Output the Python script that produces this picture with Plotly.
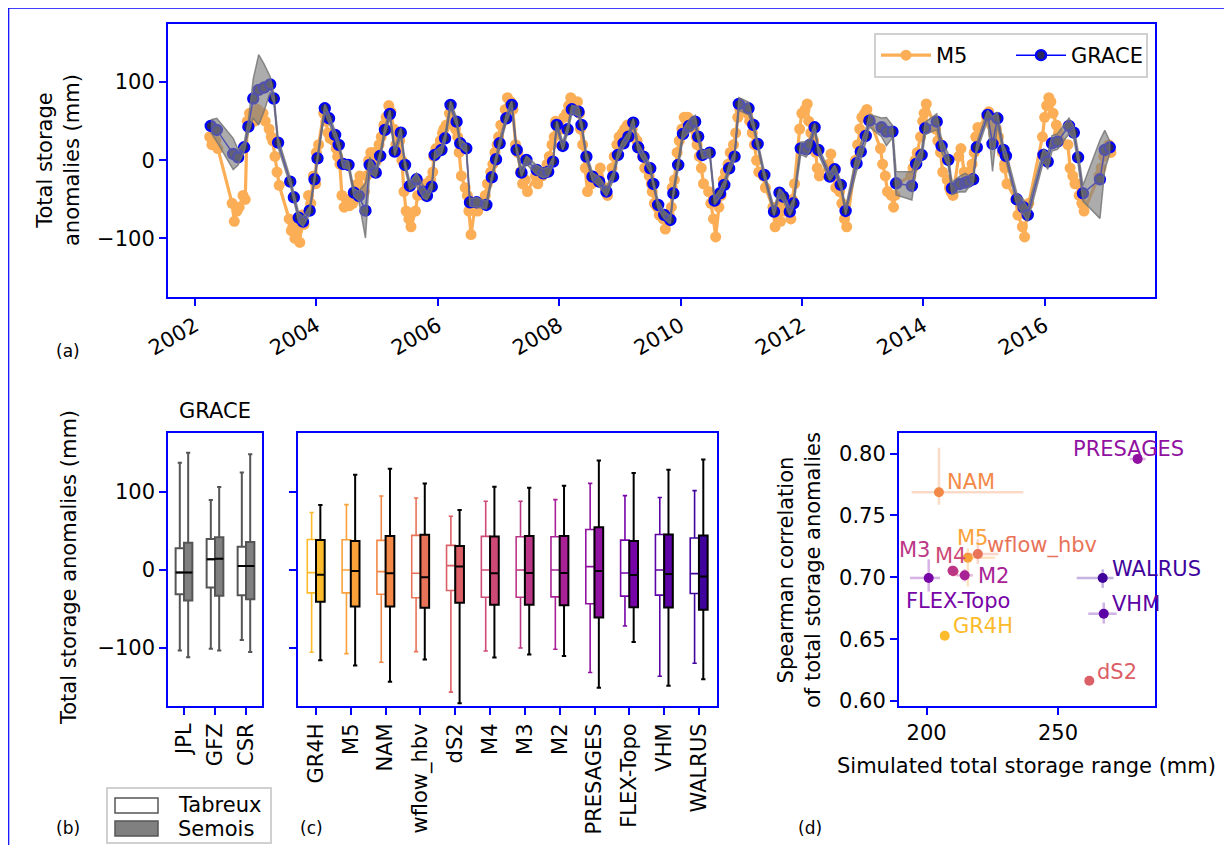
import plotly.graph_objects as go
from plotly.colors import sample_colorscale
from datetime import datetime, timedelta

# ---------------- data ----------------
grace_year = [2002.26, 2002.36, 2002.63, 2002.71, 2002.81, 2002.88, 2002.96, 2003.05, 2003.14, 2003.24,
              2003.30, 2003.37, 2003.57, 2003.63, 2003.71, 2003.78, 2003.89, 2003.97, 2004.02, 2004.14,
              2004.21, 2004.31, 2004.37, 2004.44, 2004.53, 2004.62, 2004.70, 2004.81, 2004.88, 2004.98,
              2005.05, 2005.13, 2005.21, 2005.29, 2005.39, 2005.46, 2005.54, 2005.65, 2005.76, 2005.82,
              2005.90, 2005.95, 2006.06, 2006.12, 2006.21, 2006.31, 2006.37, 2006.47, 2006.53, 2006.64,
              2006.80, 2006.89, 2006.96, 2007.02, 2007.13, 2007.22, 2007.30, 2007.38, 2007.46, 2007.63,
              2007.74, 2007.82, 2007.90, 2007.96, 2008.06, 2008.14, 2008.21, 2008.32, 2008.37, 2008.45,
              2008.55, 2008.66, 2008.78, 2008.89, 2008.97, 2009.06, 2009.14, 2009.22, 2009.30, 2009.39,
              2009.50, 2009.55, 2009.63, 2009.73, 2009.83, 2009.88, 2009.96, 2010.04, 2010.14, 2010.24,
              2010.29, 2010.36, 2010.48, 2010.56, 2010.65, 2010.72, 2010.80, 2010.89, 2010.96, 2011.12,
              2011.20, 2011.27, 2011.38, 2011.54, 2011.63, 2011.69, 2011.80, 2011.86, 2011.98, 2012.07,
              2012.13, 2012.21, 2012.27, 2012.46, 2012.54, 2012.64, 2012.72, 2012.90, 2012.97, 2013.05,
              2013.11, 2013.31, 2013.39, 2013.49, 2013.55, 2013.81, 2013.88, 2013.97, 2014.03, 2014.22,
              2014.30, 2014.41, 2014.47, 2014.60, 2014.69, 2014.74, 2014.82, 2014.88, 2015.06, 2015.14,
              2015.22, 2015.32, 2015.36, 2015.54, 2015.65, 2015.72, 2015.98, 2016.05, 2016.12, 2016.21,
              2016.40, 2016.48, 2016.55, 2016.63, 2016.91, 2016.99, 2017.07]
grace_tsa = [43.9, 38.8, 8.1, 3.8, 16.6, 43.0, 79.0, 90.0, 93.0, 97.0,
             79.0, 22.6, -27.3, -47.3, -73.3, -78.4, -64.4, -24.3, 2.6, 66.5,
             53.7, 32.4, 19.6, -4.7, -6.0, -41.3, -45.6, -64.4, -6.0, -15.8,
             5.5, 38.8, 59.2, 11.1, 35.4, -6.0, -32.8, -24.3, -40.1, -45.6,
             -33.7, 6.8, 13.2, 28.1, 70.8, 49.4, 21.7, 15.3, -53.7, -53.7,
             -57.1, -21.7, 1.3, 21.7, 53.7, 70.8, 13.2, -15.8, 0.4, -12.4,
             -16.6, -14.5, -1.7, 45.2, 18.3, 39.6, 65.2, 62.2, 45.2, 4.7,
             -20.9, -27.3, -40.1, -20.9, 6.8, 21.7, 30.3, 48.2, 16.6, 4.7,
             -10.2, -30.3, -57.1, -69.9, -76.3, -42.2, -6.0, 33.7, 43.9, 49.4,
             30.3, 6.8, 9.8, -51.6, -42.2, -31.5, -10.2, 4.7, 72.0, 66.5,
             45.2, 20.9, -18.8, -65.6, -41.3, -46.5, -65.6, -55.0, 15.3, 14.1,
             19.6, 42.2, 13.2, -20.9, -11.5, -31.5, -64.8, -3.8, 11.1, 31.1,
             50.7, 42.2, 36.7, 36.7, -29.4, -32.8, -4.7, 6.8, 40.9, 49.4,
             18.3, 0.4, -35.8, -30.3, -28.6, -27.3, -24.3, 16.6, 58.0, 20.9,
             53.7, 13.2, 5.5, -49.9, -60.1, -69.9, 6.8, -1.7, 21.7, 23.9,
             43.9, 35.4, 3.8, -42.2, -24.3, 13.2, 16.6]
grace_spread = [8, 15, 20, 10, 6, 8, 25, 45, 30, 10,
                6, 6, 5, 5, 6, 6, 5, 5, 5, 5,
                5, 5, 5, 5, 5, 5, 6, 35, 10, 6,
                5, 5, 5, 5, 6, 5, 5, 8, 8, 5,
                5, 5, 5, 5, 5, 5, 5, 5, 5, 6,
                5, 5, 5, 5, 5, 5, 5, 5, 5, 6,
                6, 6, 5, 5, 5, 5, 5, 6, 5, 5,
                5, 6, 6, 5, 5, 5, 5, 5, 5, 5,
                5, 5, 5, 5, 5, 5, 5, 6, 8, 8,
                5, 5, 5, 5, 5, 5, 5, 5, 8, 8,
                5, 5, 5, 5, 5, 5, 5, 5, 8, 10,
                8, 5, 5, 5, 5, 5, 5, 10, 10, 8,
                8, 12, 18, 8, 15, 18, 8, 8, 8, 10,
                8, 8, 8, 10, 12, 8, 6, 6, 6, 35,
                8, 6, 6, 8, 10, 8, 8, 10, 10, 10,
                10, 8, 8, 10, 50, 25, 8]
m5_early = [30, 25, -55, -65, -45, 50, 60, 65, 60, 40,
            25, -15, -75, -85, -90, -70, -45, -20, 10, 60,
            35, 25, 5, -45, -50, -55, -30, -40, 0, 10,
            20, 45, 70, 40, 25, -40, -75, -65, -35, -30,
            -25, 5, 25, 40, 60, 40, 10, -35, -65, -55,
            -45, -15, 10, 30, 65, 75, 20, -15, -25, -20,
            -20, -5, 20, 50, 40, 60, 80, 75, 40, -10,
            -30, -20, -35, -10, 20, 35, 45, 40, 25, 5,
            -20, -40, -60, -75, -70, -35, 10, 40, 55, 40,
            20, -10, -40, -75, -60, -25, -5, 20, 55, 60,
            35, 0, -20, -60, -60, -55, -65, -50, 40, 65,
            50, 25, -10, -5, -20, -40, -75, 0, 40, 60,
            55, 15, -20, -45, -45, -20, 0, 30, 60, 40,
            10, -25, -40, 5, -15, -20, -5, 30, 55, 45,
            40, 10, -10, -50, -85, -70, 30, 70, 75, 45,
            20, -20, -30, -55, -20, 5, 20]
m5_late = [20, 15, -78, -60, -50, 60, 50, 55, 50, 30,
           5, -32, -90, -100, -105, -82, -55, -30, 20, 50,
           28, 15, -5, -60, -58, -45, -20, -20, 10, 0,
           30, 55, 62, 20, 0, -65, -85, -45, -45, -35,
           -15, 15, 35, 45, 50, 30, -20, -45, -95, -65,
           -30, -5, 20, 45, 80, 65, 10, -30, -40, -30,
           -15, 5, 30, 45, 55, 70, 75, 60, 20, -40,
           -20, -10, -45, 5, 30, 40, 40, 30, 15, -10,
           -30, -55, -70, -88, -60, -25, 25, 55, 45, 30,
           5, -30, -55, -98, -45, -15, 10, 35, 65, 50,
           20, -15, -35, -85, -78, -65, -75, -30, 60, 72,
           35, 10, -20, 8, -35, -55, -85, 20, 55, 65,
           50, -5, -40, -60, -30, -10, 10, 50, 72, 25,
           -15, -35, -45, 15, -25, -15, 10, 42, 62, 35,
           30, -5, -30, -70, -98, -55, 55, 80, 60, 35,
           -10, -30, -45, -65, -10, 15, 10]

products = ["JPL", "GFZ", "CSR"]
grace_tab_upper = [137.6, 89.7, 124.8]
grace_tab_q3 = [27.8, 39.7, 29.9]
grace_tab_med = [-3.4, 13.7, 5.1]
grace_tab_q1 = [-31.2, -22.6, -32.5]
grace_tab_lower = [-103.4, -100.9, -89.7]
grace_sem_upper = [150.4, 106.4, 148.3]
grace_sem_q3 = [35.0, 41.9, 35.9]
grace_sem_med = [-3.4, 14.5, 5.1]
grace_sem_q1 = [-39.3, -32.9, -37.6]
grace_sem_lower = [-112.0, -103.4, -105.1]

models = ["GR4H", "M5", "NAM", "wflow_hbv", "dS2", "M4", "M3", "M2", "PRESAGES", "FLEX-Topo", "VHM", "WALRUS"]
tab_upper = [73.6, 83.8, 94.9, 92.3, 68.9, 88.1, 88.1, 90.2, 111.0, 95.3, 92.8, 101.7]
tab_q3 = [39.1, 38.7, 37.9, 44.3, 31.5, 43.0, 42.6, 42.6, 51.9, 38.3, 45.5, 40.9]
tab_med = [-3.4, 0.0, -2.1, -4.3, 5.5, 0.0, 0.0, 0.0, 4.3, -3.8, 0.0, -4.7]
tab_q1 = [-29.4, -29.4, -31.1, -35.7, -26.4, -34.9, -34.9, -34.5, -43.4, -33.6, -32.3, -30.2]
tab_lower = [-105.5, -107.2, -118.3, -104.7, -156.6, -103.8, -100.0, -101.7, -131.5, -71.9, -136.2, -119.6]
sem_upper = [83.4, 122.0, 129.8, 111.0, 77.0, 106.8, 105.5, 108.1, 140.4, 124.3, 128.5, 141.7]
sem_q3 = [38.3, 37.0, 43.4, 45.1, 30.6, 43.0, 43.4, 43.4, 54.9, 37.0, 45.5, 44.3]
sem_med = [-6.0, -1.3, -4.3, -9.4, 4.3, -4.3, -3.8, -3.8, -1.3, -6.4, -5.1, -8.5]
sem_q1 = [-40.9, -46.8, -46.8, -48.5, -42.1, -44.7, -44.7, -45.1, -60.9, -47.7, -48.1, -51.1]
sem_lower = [-115.7, -122.5, -143.4, -114.9, -171.0, -112.3, -108.5, -110.2, -151.1, -92.3, -148.5, -140.0]

storage_range = [206.9, 215.7, 204.7, 219.5, 261.9, 210.2, 209.9, 214.5, 280.3, 200.8, 267.4, 267.0]
range_err_minus = [1.0, 4.3, 10.4, 4.9, 1.0, 2.0, 2.0, 3.2, 3.0, 7.1, 5.9, 9.9]
range_err_plus = [1.0, 10.3, 32.1, 7.8, 1.0, 2.0, 2.0, 3.2, 3.0, 4.3, 4.9, 4.1]
spearman = [0.6528, 0.7159, 0.7687, 0.7189, 0.6164, 0.7049, 0.7054, 0.7016, 0.7957, 0.6995, 0.6706, 0.6995]
corr_err_minus = [0.003, 0.0234, 0.010, 0.008, 0.003, 0.004, 0.004, 0.005, 0.004, 0.011, 0.008, 0.008]
corr_err_plus = [0.003, 0.0075, 0.036, 0.012, 0.003, 0.004, 0.004, 0.005, 0.004, 0.0151, 0.009, 0.007]

year_ticks = [2002, 2004, 2006, 2008, 2010, 2012, 2014, 2016]

# ---------------- helpers / style ----------------
W, H, OFF = 1216, 837, 8
FS = 21


def px(x):
    return (x - OFF) / W


def py(y):
    return 1 - (y - OFF) / H


def year_to_date(y):
    yi = int(y)
    return datetime(yi, 1, 1) + timedelta(days=(y - yi) * 365.25)


def rgba(c, a):
    nums = c[c.index("(") + 1:c.index(")")].split(",")
    return "rgba(%s,%s,%s,%s)" % (nums[0].strip(), nums[1].strip(), nums[2].strip(), a)


colors = sample_colorscale("Plasma", [0.85 - i * 0.75 / 11 for i in range(12)])
m5_color = colors[models.index("M5")]
FONT = "DejaVu Sans"

fig = go.Figure()

# ---------------- (a) time series ----------------
dates = [year_to_date(y) for y in grace_year]
m5_dates, m5_vals = [], []
for y, a, b in zip(grace_year, m5_early, m5_late):
    m5_dates += [year_to_date(y - 0.018), year_to_date(y + 0.018)]
    m5_vals += [a, b]
band_hi = [v + s for v, s in zip(grace_tsa, grace_spread)]
band_lo = [v - s for v, s in zip(grace_tsa, grace_spread)]

fig.add_trace(go.Scatter(x=m5_dates, y=m5_vals, mode="lines+markers", name="M5",
                         line=dict(color=m5_color, width=3.2), marker=dict(size=11, color=m5_color),
                         opacity=0.85, xaxis="x", yaxis="y"))
fig.add_trace(go.Scatter(x=dates, y=grace_tsa, mode="lines+markers", name="GRACE",
                         line=dict(color="blue", width=1.5),
                         marker=dict(size=10, color="rgb(40,40,90)", line=dict(color="blue", width=2.4)),
                         xaxis="x", yaxis="y"))
fig.add_trace(go.Scatter(x=dates + dates[::-1], y=band_hi + band_lo[::-1], mode="lines", fill="toself",
                         fillcolor="rgba(128,128,128,0.65)", line=dict(color="rgba(115,115,115,0.8)", width=1.5),
                         showlegend=False, hoverinfo="skip", xaxis="x", yaxis="y"))

# ---------------- (b) GRACE boxes ----------------
BW_B, OFF_B = 0.27, 0.135
tab_pos_b = [i - OFF_B for i in range(len(products))]
sem_pos_b = [i + OFF_B for i in range(len(products))]
fig.add_trace(go.Box(x=tab_pos_b, q1=grace_tab_q1, median=grace_tab_med, q3=grace_tab_q3,
                     lowerfence=grace_tab_lower, upperfence=grace_tab_upper, orientation="v",
                     width=BW_B, whiskerwidth=0.5, fillcolor="white", line=dict(color="#555555", width=2),
                     boxpoints=False, showlegend=False, xaxis="x2", yaxis="y2", name="Tabreux"))
fig.add_trace(go.Box(x=sem_pos_b, q1=grace_sem_q1, median=grace_sem_med, q3=grace_sem_q3,
                     lowerfence=grace_sem_lower, upperfence=grace_sem_upper, orientation="v",
                     width=BW_B, whiskerwidth=0.5, fillcolor="#808080", line=dict(color="#555555", width=2),
                     boxpoints=False, showlegend=False, xaxis="x2", yaxis="y2", name="Semois"))
mx, my = [], []
for pos, med in list(zip(tab_pos_b, grace_tab_med)) + list(zip(sem_pos_b, grace_sem_med)):
    mx += [pos - BW_B / 2, pos + BW_B / 2, None]
    my += [med, med, None]
fig.add_trace(go.Scatter(x=mx, y=my, mode="lines", line=dict(color="black", width=2),
                         showlegend=False, hoverinfo="skip", xaxis="x2", yaxis="y2"))

# ---------------- (c) model boxes ----------------
BW_C, OFF_C = 0.25, 0.125
for i, m in enumerate(models):
    c = colors[i]
    fig.add_trace(go.Box(x=[i - OFF_C], q1=[tab_q1[i]], median=[tab_med[i]], q3=[tab_q3[i]],
                         lowerfence=[tab_lower[i]], upperfence=[tab_upper[i]], orientation="v",
                         width=BW_C, whiskerwidth=0.5, fillcolor="white", line=dict(color=c, width=1.6),
                         boxpoints=False, showlegend=False, xaxis="x3", yaxis="y3", name=m))
    fig.add_trace(go.Box(x=[i + OFF_C], q1=[sem_q1[i]], median=[sem_med[i]], q3=[sem_q3[i]],
                         lowerfence=[sem_lower[i]], upperfence=[sem_upper[i]], orientation="v",
                         width=BW_C, whiskerwidth=0.5, fillcolor=c, line=dict(color="black", width=2),
                         boxpoints=False, showlegend=False, xaxis="x3", yaxis="y3", name=m))

# ---------------- (d) scatter ----------------
label_pos = {
    "GR4H": ("left", 6, 10), "M5": ("left", -13, 20), "NAM": ("left", 6, 10),
    "wflow_hbv": ("left", 7, 8), "dS2": ("left", 6, 9), "M4": ("left", -20, 15),
    "M3": ("right", -21, 21), "M2": ("left", 11, -1), "PRESAGES": ("center", -9, 10),
    "FLEX-Topo": ("left", -25, -23), "VHM": ("left", 6, 10), "WALRUS": ("left", 7, 9),
}
annotations = []
for i, m in enumerate(models):
    c = colors[i]
    fig.add_trace(go.Scatter(
        x=[storage_range[i]], y=[spearman[i]], mode="markers", marker=dict(size=10, color=c),
        error_x=dict(type="data", symmetric=False, array=[range_err_plus[i]], arrayminus=[range_err_minus[i]],
                     color=rgba(c, 0.3), thickness=2.5, width=0),
        error_y=dict(type="data", symmetric=False, array=[corr_err_plus[i]], arrayminus=[corr_err_minus[i]],
                     color=rgba(c, 0.3), thickness=2.5, width=0),
        showlegend=False, xaxis="x4", yaxis="y4", name=m))
    anc, dx, dy = label_pos[m]
    annotations.append(dict(x=storage_range[i], y=spearman[i], xref="x4", yref="y4", text=m,
                            showarrow=False, xanchor=anc, yanchor="middle", xshift=dx, yshift=dy,
                            font=dict(size=FS, color=c, family=FONT)))

# ---------------- layout ----------------
axis_common = dict(showline=True, linecolor="blue", linewidth=2, mirror=True, ticks="outside",
                   tickcolor="blue", tickwidth=2, ticklen=7, showgrid=False, zeroline=False,
                   automargin=False, tickfont=dict(size=FS, color="black", family=FONT))
minus = "\u2212"

fig.update_layout(
    width=W, height=H, autosize=False, margin=dict(l=0, r=0, t=0, b=0, pad=0, autoexpand=False),
    paper_bgcolor="white", plot_bgcolor="white",
    font=dict(family=FONT, size=FS, color="black"),
    xaxis=dict(axis_common, domain=[px(168), px(1155)], anchor="y", type="date",
               range=[year_to_date(2001.555), year_to_date(2017.815)],
               tickvals=[datetime(y, 1, 1) for y in year_ticks], ticktext=[str(y) for y in year_ticks],
               tickangle=-30),
    yaxis=dict(axis_common, domain=[py(296.5), py(24)], anchor="x", range=[-174.2, 174.3],
               tickvals=[-100, 0, 100], ticktext=[minus + "100", "0", "100"]),
    xaxis2=dict(axis_common, domain=[px(168.3), px(261.7)], anchor="y2", range=[-0.506, 2.506],
                tickvals=list(range(len(products))), ticktext=products, tickangle=-90),
    yaxis2=dict(axis_common, domain=[py(706), py(433.3)], anchor="x2", range=[-174.4, 175.2],
                tickvals=[-100, 0, 100], ticktext=[minus + "100", "0", "100"]),
    xaxis3=dict(axis_common, domain=[px(298.3), px(716.7)], anchor="y3", range=[-0.508, 11.51],
                tickvals=list(range(len(models))), ticktext=models, tickangle=-90),
    yaxis3=dict(axis_common, domain=[py(706), py(433.3)], anchor="x3", range=[-174.4, 175.2],
                tickvals=[-100, 0, 100], showticklabels=False),
    xaxis4=dict(axis_common, domain=[px(899), px(1155)], anchor="y4", range=[189.5, 286.9],
                tickvals=[200, 250], ticktext=["200", "250"]),
    yaxis4=dict(axis_common, domain=[py(706), py(433.3)], anchor="x4", range=[0.596, 0.8164],
                tickvals=[0.60, 0.65, 0.70, 0.75, 0.80], ticktext=["0.60", "0.65", "0.70", "0.75", "0.80"]),
    legend=dict(x=px(1148), xanchor="right", y=py(33), yanchor="top", orientation="h",
                bgcolor="rgba(255,255,255,0.85)", bordercolor="#d0d0d0", borderwidth=2,
                itemwidth=50, entrywidth=70, entrywidthmode="pixels",
                font=dict(size=FS, family=FONT)),
    showlegend=True,
)


def txt(x, y, s, size=FS, angle=0, anchor="center"):
    return dict(x=px(x), y=py(y), xref="paper", yref="paper", text=s, showarrow=False,
                xanchor=anchor, yanchor="middle", textangle=angle, font=dict(size=size, family=FONT, color="black"))


annotations += [
    txt(58, 160, "Total storage<br>anomalies (mm)", angle=-90),
    txt(68, 351, "(a)", size=17),
    txt(68, 828, "(b)", size=17),
    txt(311, 828, "(c)", size=17),
    txt(810, 828, "(d)", size=17),
    txt(215, 411, "GRACE"),
    txt(69, 568, "Total storage anomalies (mm)", angle=-90),
    txt(799, 570, "Spearman correlation<br>of total storage anomalies", angle=-90),
    txt(1026, 766, "Simulated total storage range (mm)"),
    txt(176, 805, "Tabreux", anchor="left"),
    txt(176, 829, "Semois", anchor="left"),
]
fig.update_layout(annotations=annotations)

shapes = [
    dict(type="line", xref="paper", yref="paper", x0=px(8.7), x1=px(8.7), y0=0, y1=py(8), line=dict(color="blue", width=1.2)),
    dict(type="line", xref="paper", yref="paper", x0=px(8), x1=1, y0=py(8.2), y1=py(8.2), line=dict(color="blue", width=1.2)),
    dict(type="rect", xref="paper", yref="paper", x0=px(107), x1=px(271), y0=py(843), y1=py(788),
         line=dict(color="#d0d0d0", width=2), fillcolor="white", layer="below"),
    dict(type="rect", xref="paper", yref="paper", x0=px(115), x1=px(158), y0=py(813), y1=py(798),
         line=dict(color="#555555", width=1.5), fillcolor="white"),
    dict(type="rect", xref="paper", yref="paper", x0=px(115), x1=px(158), y0=py(836), y1=py(821),
         line=dict(color="#555555", width=1.5), fillcolor="#808080"),
]
fig.update_layout(shapes=shapes)

fig.write_html("out.html")
